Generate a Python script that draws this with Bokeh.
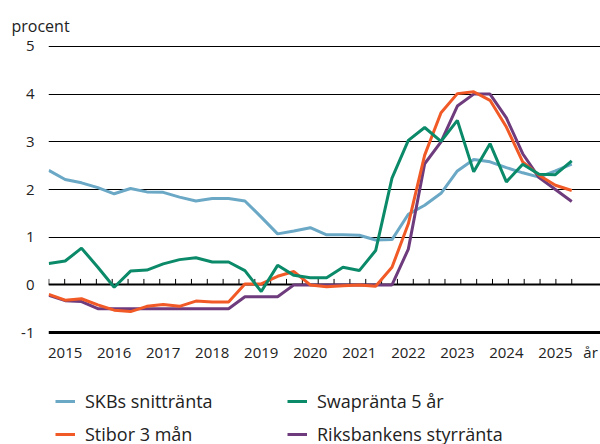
from bokeh.plotting import figure
from bokeh.layouts import column
from bokeh.models import Range1d, FixedTicker, Grid, Legend, LegendItem
from bokeh.embed import file_html
from bokeh.resources import INLINE

# ---- data (tertial observations, 2015 T1 .. 2025 T3) ----
years = ["2015", "2016", "2017", "2018", "2019", "2020", "2021", "2022", "2023", "2024", "2025"]
x_unit = "år"
y_unit = "procent"

skb = [2.40, 2.21, 2.14, 2.04, 1.91, 2.02, 1.95, 1.94, 1.84, 1.76, 1.81, 1.81,
       1.76, 1.42, 1.07, 1.13, 1.20, 1.05, 1.05, 1.04, 0.94, 0.95, 1.48, 1.67,
       1.92, 2.39, 2.63, 2.58, 2.46, 2.35, 2.26, 2.39, 2.53]
swap = [0.45, 0.50, 0.77, 0.37, -0.05, 0.29, 0.31, 0.44, 0.53, 0.57, 0.48, 0.48,
        0.30, -0.14, 0.41, 0.20, 0.15, 0.15, 0.37, 0.30, 0.72, 2.24, 3.03, 3.30,
        3.01, 3.45, 2.37, 2.96, 2.16, 2.53, 2.32, 2.31, 2.60]
stibor = [-0.20, -0.32, -0.29, -0.42, -0.53, -0.56, -0.45, -0.41, -0.45, -0.34, -0.36, -0.36,
          0.02, 0.02, 0.18, 0.28, 0.00, -0.04, -0.02, 0.00, -0.03, 0.37, 1.28, 2.72,
          3.61, 4.01, 4.05, 3.87, 3.31, 2.58, 2.30, 2.09, 1.98]
riks = [-0.22, -0.33, -0.35, -0.50, -0.50, -0.50, -0.50, -0.50, -0.50, -0.50, -0.50, -0.50,
        -0.25, -0.25, -0.25, 0.00, 0.00, 0.00, 0.00, 0.00, 0.00, 0.00, 0.75, 2.54,
        3.00, 3.75, 4.00, 4.00, 3.50, 2.75, 2.25, 2.00, 1.75]

y_ticks = [-1, 0, 1, 2, 3, 4, 5]

C_SKB = "#6AA8C6"
C_SWAP = "#0B8A69"
C_STIB = "#F15A26"
C_RIKS = "#6E3B7D"
FONT = "Open Sans"
TXT = "#222222"

n = len(skb)
x = list(range(n))
line_bounds = (-0.02, n - 1 + 0.05)

# main plot: frame spans to the right edge so the unit label fits on the axis
p = figure(width=600, height=384, output_backend="svg", toolbar_location=None,
           x_range=Range1d(-0.02, 33.76), y_range=Range1d(-1.04, 5.04),
           min_border_left=48, min_border_right=0, min_border_top=44,
           min_border_bottom=50)
p.outline_line_color = None
p.background_fill_color = "white"
p.border_fill_color = "white"

p.title.text = y_unit
p.title.align = "left"
p.title.offset = -37
p.title.standoff = 16
p.title.text_font = FONT
p.title.text_font_size = "16px"
p.title.text_font_style = "normal"
p.title.text_color = TXT

# grid lines (limited to the data span)
p.xgrid.visible = False
p.ygrid.ticker = FixedTicker(ticks=[t for t in y_ticks if t > 0])
p.ygrid.grid_line_color = "#000000"
p.ygrid.grid_line_width = 1
p.ygrid.bounds = line_bounds
p.add_layout(Grid(dimension=1, ticker=FixedTicker(ticks=[0]), grid_line_color="#000000",
                  grid_line_width=2, bounds=line_bounds))
p.add_layout(Grid(dimension=1, ticker=FixedTicker(ticks=[-1]), grid_line_color="#000000",
                  grid_line_width=3, bounds=line_bounds))

# small tick marks on the zero line
tick_pos = [k * (n - 1) / n for k in range(n + 1)]
p.segment(x0=tick_pos, y0=[0] * len(tick_pos), x1=tick_pos, y1=[0.125] * len(tick_pos),
          line_color="#000000", line_width=1)

# axes
p.yaxis.ticker = FixedTicker(ticks=y_ticks)
p.yaxis.major_label_overrides = {t: str(t) for t in y_ticks}
p.yaxis.axis_line_color = None
p.yaxis.major_tick_line_color = None
p.yaxis.minor_tick_line_color = None
p.yaxis.major_label_standoff = 8
p.yaxis.major_label_text_font = FONT
p.yaxis.major_label_text_font_size = "15px"
p.yaxis.major_label_text_color = TXT

year_pos = [1 + 3 * i for i in range(len(years))]
unit_pos = 33.15
p.xaxis.ticker = FixedTicker(ticks=year_pos + [unit_pos])
labels = {pos: yr for pos, yr in zip(year_pos, years)}
labels[unit_pos] = x_unit
p.xaxis.major_label_overrides = labels
p.xaxis.axis_line_color = None
p.xaxis.major_tick_line_color = None
p.xaxis.minor_tick_line_color = None
p.xaxis.major_label_standoff = 1
p.xaxis.major_label_text_font = FONT
p.xaxis.major_label_text_font_size = "15px"
p.xaxis.major_label_text_color = TXT

# series
p.line(x, skb, line_color=C_SKB, line_width=3)
p.line(x, riks, line_color=C_RIKS, line_width=3)
p.line(x, stibor, line_color=C_STIB, line_width=3)
p.line(x, swap, line_color=C_SWAP, line_width=3)

# legend strip below the chart (its frame is aligned with the chart frame, x=48)
lg = figure(width=600, height=60, output_backend="svg", toolbar_location=None,
            x_axis_type=None, y_axis_type=None, x_range=Range1d(0, 1), y_range=Range1d(0, 1),
            min_border_left=0, min_border_right=0, min_border_top=0, min_border_bottom=0)
lg.outline_line_color = None
lg.xgrid.visible = False
lg.ygrid.visible = False
nan = float("nan")
g_skb = lg.line([nan], [nan], line_color=C_SKB, line_width=3)
g_stib = lg.line([nan], [nan], line_color=C_STIB, line_width=3)
g_swap = lg.line([nan], [nan], line_color=C_SWAP, line_width=3)
g_riks = lg.line([nan], [nan], line_color=C_RIKS, line_width=3)


def make_legend(items, loc):
    leg = Legend(items=items, location=loc, orientation="vertical")
    leg.label_text_font = FONT
    leg.label_text_font_size = "18px"
    leg.label_text_color = TXT
    leg.glyph_width = 20
    leg.glyph_height = 20
    leg.label_height = 20
    leg.label_standoff = 10
    leg.spacing = 9
    leg.padding = 0
    leg.margin = 0
    leg.border_line_alpha = 0
    leg.background_fill_alpha = 0
    return leg


lg.add_layout(make_legend([LegendItem(label="SKBs snittränta", renderers=[g_skb]),
                           LegendItem(label="Stibor 3 mån", renderers=[g_stib])], (7, -2)), "center")
lg.add_layout(make_legend([LegendItem(label="Swapränta 5 år", renderers=[g_swap]),
                           LegendItem(label="Riksbankens styrränta", renderers=[g_riks])], (239, -2)), "center")

layout = column(p, lg, spacing=0)
open("out.html", "w").write(file_html(layout, INLINE))
